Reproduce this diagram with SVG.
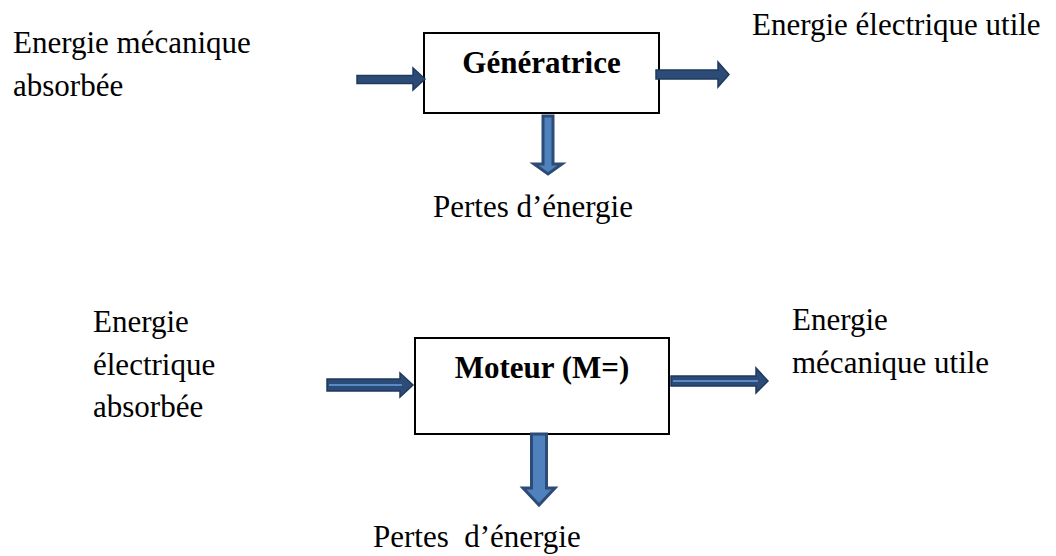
<svg xmlns="http://www.w3.org/2000/svg" width="1056" height="556" viewBox="0 0 1056 556">
<style>
.t{font-family:"Liberation Serif","Times New Roman",serif;font-size:31px;fill:#000}
.b{font-weight:bold;text-anchor:middle}
.box{fill:#fff;stroke:#000;stroke-width:2}
.dk{fill:#2c4b76;stroke:#1f3a5f;stroke-width:1.5;stroke-linejoin:miter}
.lt{fill:#4f81bd;stroke:#2c4b76;stroke-width:3;stroke-linejoin:miter}
.st{stroke:#5a8ac6;stroke-width:2}
</style>
<rect width="1056" height="556" fill="#fff"/>
<g id="generatrice">
<rect class="box" x="424" y="33" width="235" height="80"/>
<text class="t b" x="541.5" y="73">Génératrice</text>
</g>
<g id="moteur">
<rect class="box" x="415" y="338" width="254" height="96"/>
<text class="t b" x="542" y="378">Moteur (M=)</text>
</g>
<g id="labels">
<text class="t" x="13" y="53">Energie mécanique</text>
<text class="t" x="13" y="96">absorbée</text>
<text class="t" x="752" y="35">Energie électrique utile</text>
<text class="t" x="433" y="217">Pertes d’énergie</text>
<text class="t" x="93" y="332">Energie</text>
<text class="t" x="93" y="375">électrique</text>
<text class="t" x="93" y="417">absorbée</text>
<text class="t" x="792" y="330">Energie</text>
<text class="t" x="792" y="373">mécanique utile</text>
<text class="t" x="373" y="547" xml:space="preserve">Pertes  d’énergie</text>
</g>
<g id="connectors">
<polygon class="dk" points="357,75.5 413,75.5 413,68 425,79 413,90 413,83.5 357,83.5"/>
<polygon class="dk" points="656,70 718,70 718,62 729,74.5 718,87 718,79 656,79"/>
<polygon class="lt" points="543,116 553,116 553,164 562,164 548,174 534,164 543,164"/>
<polygon class="dk" points="327,379 400,379 400,373 413,385 400,397 400,391 327,391"/>
<line class="st" x1="329" y1="385" x2="402" y2="385"/>
<polygon class="dk" points="671,376 756,376 756,368 768,381 756,393 756,386 671,386"/>
<line class="st" x1="673" y1="381" x2="758" y2="381"/>
<polygon class="lt" points="531.5,434 546.5,434 546.5,488 555,488 539,505 523,488 531.5,488"/>
</g>
</svg>
